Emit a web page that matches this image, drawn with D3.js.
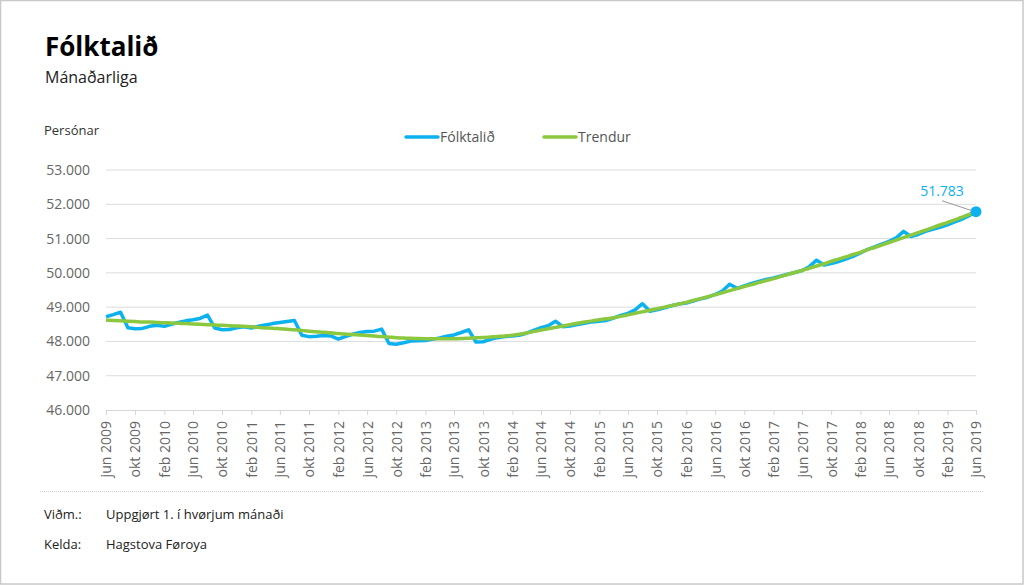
<!DOCTYPE html>
<html lang="fo">
<head>
<meta charset="UTF-8">
<title>Fólktalið</title>
<style>
  body { margin: 0; background: #fff; }
  svg { display: block; font-family: "Open Sans", sans-serif; }
</style>
</head>
<body>
<div id="graph"></div>
<script src="https://cdn.jsdelivr.net/npm/d3@7/dist/d3.min.js"></script>
<script>
    // mánaðir frá jun 2009 til jun 2019
    var startYear = 2009, startMonth = 5; // juni
    var monthNames = ["jan", "feb", "mar", "apr", "mai", "jun", "jul", "aug", "sep", "okt", "nov", "des"];

    // Fólktalið (lisið av myndini)
    var folktal = [
        48720, 48780, 48850, 48400, 48370, 48380, 48440, 48470, 48440, 48500, 48550, 48600,
        48630, 48670, 48770, 48390, 48340, 48350, 48400, 48430, 48390, 48440, 48480, 48520,
        48550, 48580, 48610, 48180, 48140, 48150, 48170, 48160, 48070, 48140, 48210, 48260,
        48290, 48300, 48360, 47940, 47920, 47960, 48010, 48020, 48030, 48060, 48100, 48150,
        48190, 48260, 48340, 47980, 47990, 48060, 48110, 48140, 48160, 48180, 48240, 48320,
        48400, 48460, 48590, 48430, 48450, 48490, 48530, 48570, 48590, 48610, 48680, 48760,
        48820, 48920, 49100, 48880, 48920, 48980, 49040, 49090, 49120, 49180, 49240, 49290,
        49370, 49470, 49670, 49550, 49620, 49690, 49750, 49810, 49850, 49900, 49960, 50010,
        50070, 50180, 50370, 50230, 50270, 50330, 50400, 50480, 50580, 50680, 50760, 50840,
        50920, 51020, 51210, 51060, 51120, 51210, 51270, 51330, 51400, 51480, 51560, 51660,
        51783
    ];

    // Trendur
    var trendur = [
        48620, 48610, 48600, 48590, 48580, 48570, 48565, 48555, 48545, 48540, 48530, 48520,
        48510, 48500, 48490, 48480, 48470, 48460, 48450, 48440, 48425, 48410, 48395, 48385,
        48370, 48355, 48340, 48320, 48300, 48285, 48265, 48250, 48230, 48215, 48200, 48185,
        48170, 48155, 48140, 48125, 48110, 48100, 48090, 48085, 48080, 48075, 48075, 48075,
        48080, 48085, 48095, 48105, 48115, 48130, 48145, 48160, 48180, 48210, 48245, 48285,
        48330, 48370, 48410, 48450, 48490, 48530, 48565, 48600, 48630, 48660, 48690, 48730,
        48775, 48820, 48865, 48910, 48955, 49000, 49045, 49090, 49140, 49195, 49250, 49305,
        49360, 49420, 49480, 49540, 49600, 49655, 49715, 49775, 49830, 49890, 49950, 50010,
        50070, 50135, 50200, 50265, 50335, 50400, 50465, 50535, 50600, 50670, 50740, 50810,
        50885, 50955, 51030, 51100, 51175, 51245, 51320, 51395, 51465, 51540, 51615, 51700,
        51780
    ];

    var yTicks = [46000, 47000, 48000, 49000, 50000, 51000, 52000, 53000];

    var dates = folktal.map(function(d, i) { return new Date(startYear, startMonth + i, 1); });
    var xTicks = dates.filter(function(d, i) { return i % 4 === 0; });

    var width = 1024, height = 585;
    var plotLeft = 106, plotRight = 976, plotTop = 170, plotBottom = 410;
    var blue = "#0cb1ef", green = "#8cc83f";

    var fo = d3.formatLocale({ decimal: ",", thousands: ".", grouping: [3], currency: ["", ""] });
    var fmt = fo.format(",d");

    var svg = d3.select("#graph").append("svg")
        .attr("width", width).attr("height", height);

    // rammi
    svg.append("rect")
        .attr("x", 0.5).attr("y", 0.5)
        .attr("width", width - 1.5).attr("height", height - 1.5)
        .attr("fill", "none").attr("stroke", "#c8c8c8").attr("stroke-width", 1.5);

    // heiti
    svg.append("text").attr("x", 45).attr("y", 56)
        .attr("font-size", 26).attr("font-weight", "bold").attr("fill", "#000")
        .text("Fólktalið");
    svg.append("text").attr("x", 45).attr("y", 83)
        .attr("font-size", 16).attr("fill", "#222")
        .text("Mánaðarliga");
    svg.append("text").attr("x", 44).attr("y", 135)
        .attr("font-size", 13).attr("fill", "#333")
        .text("Persónar");

    var xScale = d3.scaleTime()
        .domain(d3.extent(dates))
        .range([plotLeft, plotRight]);

    var yScale = d3.scaleLinear()
        .domain([46000, 53000])
        .range([plotBottom, plotTop]);

    // gitur
    svg.append("g")
        .selectAll("line")
        .data(yTicks.slice(1))
        .enter()
        .append("line")
        .attr("x1", plotLeft).attr("x2", plotRight)
        .attr("y1", function(d) { return yScale(d); })
        .attr("y2", function(d) { return yScale(d); })
        .attr("stroke", "#dcdcdc").attr("stroke-width", 1);

    // y ás
    var yAxis = svg.append("g")
        .attr("transform", "translate(" + plotLeft + ",0)")
        .call(d3.axisLeft(yScale).tickValues(yTicks).tickFormat(fmt).tickSize(0).tickPadding(16));
    yAxis.select(".domain").remove();
    yAxis.selectAll("text")
        .attr("font-family", "Open Sans").attr("font-size", 14).attr("fill", "#666");

    // x ás
    var xAxis = svg.append("g")
        .attr("transform", "translate(0," + plotBottom + ")")
        .call(d3.axisBottom(xScale).tickValues(xTicks).tickSize(5)
            .tickFormat(function(d) { return monthNames[d.getMonth()] + " " + d.getFullYear(); }));
    xAxis.select(".domain").attr("stroke", "#d6d6d6");
    xAxis.selectAll(".tick line").attr("stroke", "#d6d6d6");
    xAxis.selectAll("text")
        .attr("font-family", "Open Sans").attr("font-size", 14).attr("fill", "#666")
        .attr("transform", "rotate(-90)")
        .attr("text-anchor", "end")
        .attr("x", -11).attr("y", 0).attr("dy", "0.35em");

    // linjur
    var line = d3.line()
        .x(function(d, i) { return xScale(dates[i]); })
        .y(function(d) { return yScale(d); });

    svg.append("path")
        .datum(folktal)
        .attr("d", line)
        .attr("fill", "none").attr("stroke", blue)
        .attr("stroke-width", 3.5).attr("stroke-linejoin", "round");

    svg.append("path")
        .datum(trendur)
        .attr("d", line.curve(d3.curveMonotoneX))
        .attr("fill", "none").attr("stroke", green)
        .attr("stroke-width", 3.5).attr("stroke-linejoin", "round");

    // seinasta virði
    var last = folktal.length - 1;
    var lx = xScale(dates[last]), ly = yScale(folktal[last]);
    svg.append("circle").attr("cx", lx).attr("cy", ly).attr("r", 5.5).attr("fill", blue);
    svg.append("line")
        .attr("x1", lx - 34).attr("y1", ly - 11).attr("x2", lx - 4).attr("y2", ly - 1)
        .attr("stroke", "#999").attr("stroke-width", 1);
    svg.append("text").attr("x", lx - 34).attr("y", ly - 16)
        .attr("text-anchor", "middle").attr("font-size", 14).attr("fill", blue)
        .text(fmt(folktal[last]));

    // tekningarforklaring
    var legend = [
        { name: "Fólktalið", color: blue, x: 406 },
        { name: "Trendur", color: green, x: 544 }
    ];
    var lg = svg.append("g").selectAll("g").data(legend).enter().append("g")
        .attr("transform", function(d) { return "translate(" + d.x + ",137)"; });
    lg.append("line").attr("x1", 0).attr("x2", 32).attr("y1", 0).attr("y2", 0)
        .attr("stroke", function(d) { return d.color; }).attr("stroke-width", 3.5)
        .attr("stroke-linecap", "round");
    lg.append("text").attr("x", 34).attr("y", 5)
        .attr("font-size", 14).attr("fill", "#555")
        .text(function(d) { return d.name; });

    // niðanfyri
    svg.append("line")
        .attr("x1", 40).attr("x2", 984).attr("y1", 491.5).attr("y2", 491.5)
        .attr("stroke", "#d0d0d0").attr("stroke-dasharray", "1,1");
    var notes = [["Viðm.:", "Uppgjørt 1. í hvørjum mánaði", 519], ["Kelda:", "Hagstova Føroya", 549]];
    notes.forEach(function(n) {
        svg.append("text").attr("x", 44).attr("y", n[2]).attr("font-size", 13).attr("fill", "#222").text(n[0]);
        svg.append("text").attr("x", 106).attr("y", n[2]).attr("font-size", 13).attr("fill", "#222").text(n[1]);
    });
</script>
</body>
</html>
